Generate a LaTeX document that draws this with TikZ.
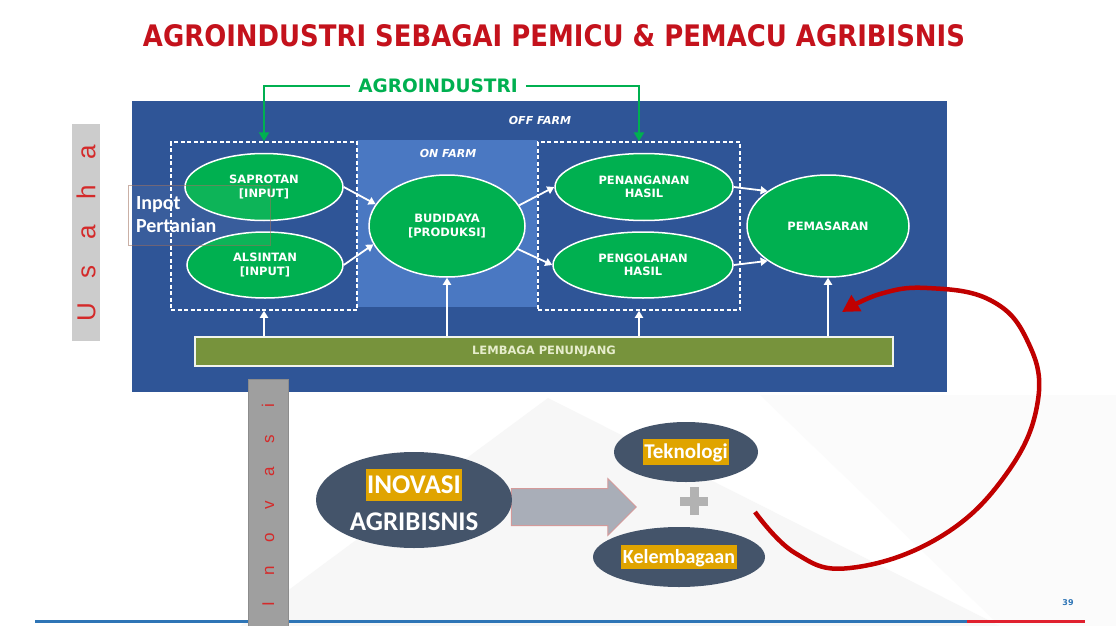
\documentclass[tikz,border=0pt]{standalone}
\usepackage{graphicx}
\usepackage{fontspec}
\setmainfont{DejaVu Sans}
\newfontfamily\carl{Carlito}
\newfontfamily\libs{Liberation Sans}
\usetikzlibrary{shapes.geometric,shapes.arrows,arrows.meta}
\definecolor{offblue}{HTML}{2F5597}
\definecolor{onblue}{HTML}{4A78C2}
\definecolor{ggreen}{HTML}{00B050}
\definecolor{olivebar}{HTML}{77933C}
\definecolor{titlered}{RGB}{196,18,28}
\definecolor{slate}{HTML}{44546A}
\definecolor{gold}{HTML}{E0A400}
\definecolor{arcred}{HTML}{C00000}
\definecolor{lineblue}{HTML}{2E75B6}
\definecolor{linered}{HTML}{E0202E}
\definecolor{lettred}{HTML}{D42A2A}
\definecolor{inpbrown}{HTML}{A0705E}
\definecolor{arrowgray}{HTML}{A9AEB8}
\definecolor{arrowedge}{HTML}{D49A9A}
\definecolor{barlabel}{HTML}{E6EDCC}
\newcommand\hlbox[1]{{\setlength\fboxsep{1.5pt}\colorbox{gold}{\rule[-0.22em]{0pt}{1.07em}#1}}}
\begin{document}
\begin{tikzpicture}[x=1pt,y=-1pt,
  gell/.style={ellipse, draw=white, line width=1.5pt, fill=ggreen, inner sep=0pt,
    text=white, align=center, font=\bfseries\fontsize{11.5}{13.5}\selectfont},
  dbox/.style={draw=white, dashed, dash pattern=on 4pt off 2.5pt, line width=1.5pt, inner sep=0pt},
  warrow/.style={draw=white, line width=1.8pt, -{Triangle[length=7pt,width=8pt]}},
  grarrow/.style={draw=ggreen, line width=2.5pt, -{Triangle[length=9pt,width=10pt]}},
  farm/.style={text=white, font=\bfseries\itshape\fontsize{11}{12}\selectfont},
  darkell/.style={ellipse, fill=slate, inner sep=0pt, text=white, align=center},
  vbar/.style={rotate=90, inner sep=0pt, text=lettred},
]
\useasboundingbox (0,0) rectangle (1116,626);
\fill[white] (0,0) rectangle (1116,626);
% light background decoration
\fill[gray!6] (240,626) -- (548,398) -- (1000,626) -- cycle;
\fill[gray!3] (760,395) -- (1116,395) -- (1116,626) -- (1000,626) -- cycle;

% title
\node[text=titlered, inner sep=0pt] (title) at (554,36)
  {\resizebox{822pt}{22pt}{\bfseries AGROINDUSTRI SEBAGAI PEMICU \& PEMACU AGRIBISNIS}};

% main panels
\fill[offblue] (132,101) rectangle (947,392);
\fill[onblue] (357,140) rectangle (537,307);
\node[farm] (off) at (540,120) {OFF FARM};
\node[farm] (on) at (448,153) {ON FARM};

% dashed boxes
\node[dbox, minimum width=186pt, minimum height=168pt] (dl) at (264,226) {};
\node[dbox, minimum width=202pt, minimum height=168pt] (dr) at (639,226) {};

% ellipses
\node[gell, minimum width=158pt, minimum height=67pt] (sap) at (264,187) {SAPROTAN\\{[INPUT]}};
\node[gell, minimum width=156pt, minimum height=66pt] (als) at (265,265) {ALSINTAN\\{[INPUT]}};
\node[gell, minimum width=156pt, minimum height=102pt] (bud) at (447,226) {BUDIDAYA\\{[PRODUKSI]}};
\node[gell, minimum width=178pt, minimum height=67pt] (pnh) at (644,187) {PENANGANAN\\HASIL};
\node[gell, minimum width=180pt, minimum height=66pt] (pgl) at (643,265) {PENGOLAHAN\\HASIL};
\node[gell, minimum width=162pt, minimum height=102pt] (pem) at (828,226) {PEMASARAN};

% flow arrows
\draw[warrow] (sap.east) -- (bud.163);
\draw[warrow] (als.east) -- (bud.194);
\draw[warrow] (bud.16) -- (pnh.west);
\draw[warrow] (bud.-18) -- (pgl.west);
\draw[warrow] (pnh.east) -- (pem.150);
\draw[warrow] (pgl.east) -- (pem.210);

% supporting bar
\node[draw=white!90!olivebar, line width=1.2pt, fill=olivebar, minimum width=698pt, minimum height=29pt,
  inner sep=0pt, text=barlabel, font=\bfseries\fontsize{11.5}{12}\selectfont] (bar) at (544,351.5) {LEMBAGA PENUNJANG};
\draw[warrow] (bar.north -| dl.south) -- (dl.south);
\draw[warrow] (bar.north -| bud.south) -- (bud.south);
\draw[warrow] (bar.north -| dr.south) -- (dr.south);
\draw[warrow] (bar.north -| pem.south) -- (pem.south);

% agroindustri label
\node[text=ggreen, inner xsep=8pt, font=\bfseries\fontsize{18.5}{20}\selectfont] (agro) at (438,86) {AGROINDUSTRI};
\draw[grarrow] (agro.west) -| (dl.north);
\draw[grarrow] (agro.east) -| (dr.north);

% inpot pertanian
\node[draw=inpbrown, draw opacity=0.55, line width=1pt, fill=white, fill opacity=0.05, text opacity=1,
  text width=126pt, inner xsep=8pt, minimum height=60pt, align=left, text=white,
  font=\carl\bfseries\fontsize{20}{23}\selectfont] (inp) at (199,215) {Inpot\\Pertanian};

% bottom rule and page number
\draw[lineblue, line width=3pt] (35,621) -- (967,621);
\draw[linered, line width=3pt] (967,621) -- (1085,621);
\node[text=lineblue, font=\bfseries\fontsize{8}{9}\selectfont] (pg) at (1068,603) {39};

% side bars
\node[vbar, fill=gray!40, minimum width=217pt, minimum height=28pt, font=\libs\fontsize{26}{28}\selectfont] (usaha) at (86,232)
  {\makebox[40pt]{U}\makebox[40pt]{s}\makebox[40pt]{a}\makebox[40pt]{h}\makebox[40pt]{a}};
\node[vbar, fill=gray!75, draw=gray!90, line width=0.6pt, minimum width=252pt, minimum height=40pt, font=\libs\fontsize{17}{18}\selectfont] (inovbar) at (268,505)
  {\makebox[33pt]{I}\makebox[33pt]{n}\makebox[33pt]{o}\makebox[33pt]{v}\makebox[33pt]{a}\makebox[33pt]{s}\makebox[33pt]{i}};

% innovation block
\node[single arrow, draw=arrowedge, line width=1pt, fill=arrowgray, minimum height=125pt,
  inner xsep=0pt, inner ysep=18pt, single arrow head extend=10pt] (blk) at (564.5,507) {};
\node[darkell, minimum width=196pt, minimum height=96pt,
  font=\carl\bfseries\fontsize{27}{37}\selectfont] (inov) at (414,500) {\hlbox{INOVASI}\\AGRIBISNIS};
\node[darkell, minimum width=144pt, minimum height=60pt,
  font=\carl\bfseries\fontsize{21}{24}\selectfont] (tek) at (686,452) {\hlbox{Teknologi}};
\node[darkell, minimum width=172pt, minimum height=60pt,
  font=\carl\bfseries\fontsize{20}{24}\selectfont] (kel) at (679,557) {\hlbox{Kelembagaan}};
\node[inner sep=0pt, minimum size=28pt] (plus) at (694,501) {};
\fill[gray!60] ([yshift=4.5pt]plus.west) rectangle ([yshift=-4.5pt]plus.east);
\fill[gray!60] ([xshift=-4.5pt]plus.north) rectangle ([xshift=4.5pt]plus.south);

% red feedback arc
\coordinate (rs) at (755,512);
\coordinate (re) at (842,312);
\draw[arcred, line width=4.5pt, -{Triangle[length=17pt,width=18pt]}]
  plot[smooth, tension=0.7] coordinates {(rs) (795,553) (850,568) (940,537) (1007,473) (1038,400) (1027,340) (990,300) (927,288) (880,294) (re)};
\end{tikzpicture}
\end{document}
